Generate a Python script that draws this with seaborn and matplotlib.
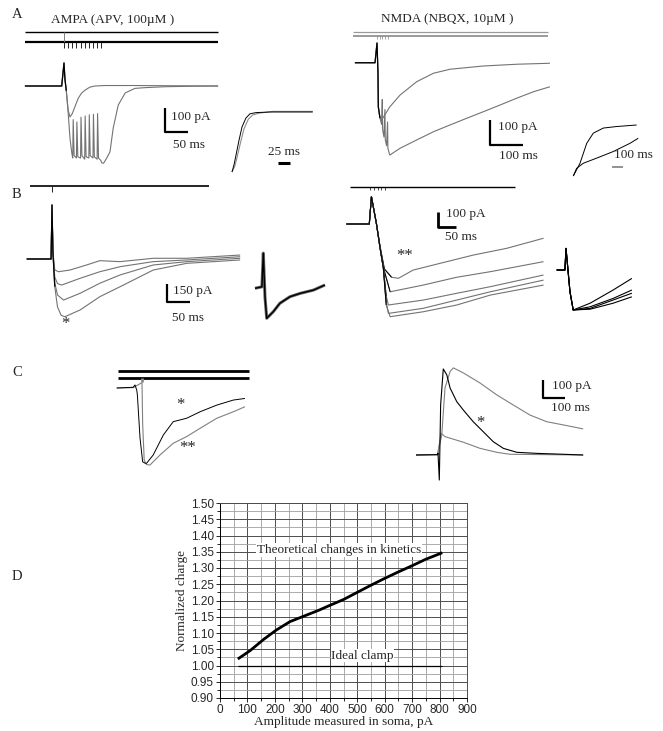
"""
Recreates the AMPA / NMDA current traces figure (panels A-D)
"""
import matplotlib
matplotlib.use("Agg")
import matplotlib.pyplot as plt
import seaborn as sns

W, H = 663, 731

# ---------------- Panel A, AMPA (time in ms, current in pA)
ampa_train_stim = [0, 9, 18, 27, 36, 45, 54, 63, 72, 80]
ampa_single_t = [-85, -5, 0, 2, 5, 9, 13, 18, 24, 31, 38, 46, 56, 67, 90, 150, 335]
ampa_single_i = [0, 0, 96, 30, -20, -100, -129, -115, -85, -51, -30, -17, -5, 0, 2, 2, 0]
ampa_train_t = [-85, -5, 0, 2, 5, 9, 13, 17, 19, 20, 22, 27, 28, 30, 36, 37, 39, 45, 46, 48,
                54, 55, 57, 63, 64, 66, 72, 73, 75, 80, 82, 86, 93, 100, 107, 118, 133,
                154, 175, 220, 280, 335]
ampa_train_i = [0, 0, 96, 30, -20, -110, -217, -280, -300, -140, -290, -300, -150, -295,
                -300, -130, -290, -305, -125, -295, -300, -120, -290, -300, -118, -295,
                -305, -115, -300, -310, -320, -322, -300, -274, -175, -79, -29, -10, -7,
                -3, -1, 0]
# inset, normalised
ampa_in_t1 = [0, 4.2, 8.3, 14.6, 20.8, 29, 37.4, 50, 79, 168]
ampa_in_i1 = [-1, -0.88, -0.72, -0.47, -0.25, -0.1, -0.03, -0.01, 0, 0]
ampa_in_t2 = [0, 6, 11, 18, 25, 34, 43, 56, 85, 168]
ampa_in_i2 = [-1, -0.9, -0.74, -0.5, -0.28, -0.12, -0.05, -0.02, 0.01, 0.01]

# ---------------- Panel A, NMDA
nmda_train_stim = [0, 8, 16, 24, 32]
nmda_fast_t = [-67, -6, 0, 3, 4, 9, 14, 39, 70, 120, 171, 221, 322, 423, 524]
nmda_fast_i = [-3, -3, 76, -44, -179, -224, -232, -179, -132, -79, -45, -29, -16, -9, -5]
nmda_slow_t = [-67, -6, 0, 3, 4, 9, 14, 16, 17, 21, 24, 25, 29, 32, 33, 37, 39, 70, 120,
               171, 221, 272, 322, 373, 423, 474, 524]
nmda_slow_i = [-3, -3, 76, -44, -179, -224, -250, -150, -270, -300, -190, -310, -335, -240,
               -345, -365, -372, -345, -312, -279, -252, -225, -199, -172, -145, -119, -99]
nmda_in_t1 = [0, 61, 122, 182, 273, 394, 576]
nmda_in_i1 = [-1, -0.75, -0.36, -0.16, -0.06, -0.03, 0]
nmda_in_t2 = [0, 30, 91, 212, 364, 515, 591]
nmda_in_i2 = [-1, -0.85, -0.75, -0.65, -0.52, -0.36, -0.26]

# ---------------- Panel B, AMPA family
b_ampa_t = [
    [-55, -2, 0, 2, 6, 14, 39, 75, 104, 148, 220, 293, 409],
    [-55, -2, 0, 2, 6, 12, 21, 61, 104, 148, 220, 293, 409],
    [-55, -2, 0, 2, 6, 12, 25, 61, 104, 148, 220, 293, 409],
    [-55, -2, 0, 2, 6, 12, 20, 28, 61, 104, 148, 220, 293, 409],
]
b_ampa_i = [
    [0, 0, 450, 60, -90, -106, -92, -50, -14, -22, 6, 6, 33],
    [0, 0, 450, 60, -150, -205, -217, -161, -106, -64, -22, -8, 19],
    [0, 0, 450, 60, -200, -300, -342, -286, -202, -133, -50, -22, 6],
    [0, 0, 450, 60, -230, -400, -470, -481, -425, -314, -231, -92, -36, -8],
]
b_ampa_in_t = [-18, -3, 0, 3.7, 7.4, 21.7, 36, 58, 80, 109, 134]
b_ampa_in_i = [0, 0.05, 1.17, -0.3, -1, -0.78, -0.5, -0.28, -0.17, -0.06, 0.11]

# ---------------- Panel B, NMDA family
b_nmda_stim = [0, 10, 21, 31, 42]
b_nmda_t = [
    [-65, -2, 4, 18, 28, 40, 60, 79, 120, 195, 287, 380, 482],
    [-65, -2, 4, 18, 28, 37, 56, 148, 241, 334, 482],
    [-65, -2, 4, 18, 28, 37, 45, 51, 148, 241, 334, 482],
    [-65, -2, 4, 18, 28, 37, 45, 51, 148, 241, 334, 482],
    [-65, -2, 4, 18, 28, 37, 45, 56, 148, 241, 334, 482],
]
b_nmda_i = [
    [0, 0, 182, 0, -150, -300, -355, -362, -307, -262, -207, -162, -95],
    [0, 0, 182, 0, -160, -290, -452, -407, -355, -318, -251],
    [0, 0, 182, 0, -160, -290, -480, -540, -507, -462, -418, -340],
    [0, 0, 182, 0, -160, -290, -520, -596, -562, -507, -452, -374],
    [0, 0, 182, 0, -160, -290, -540, -618, -585, -540, -474, -407],
]
b_nmda_in_t = [-26, -3, 0, 11, 20, 67, 131, 183]
b_nmda_in_i = [
    [0, 0, 0.54, -0.54, -1, -0.83, -0.5, -0.21],
    [0, 0, 0.54, -0.54, -1, -0.92, -0.71, -0.5],
    [0, 0, 0.54, -0.54, -1, -0.96, -0.75, -0.58],
    [0, 0, 0.54, -0.54, -1, -0.98, -0.83, -0.67],
]

# ---------------- Panel C
c_left_t1 = [-115, -40, -32, -24, -21, -9, 3, 14, 21, 51, 97, 142, 203, 264, 340, 415, 468]
c_left_i1 = [0, 4, 17, -11, -39, -278, -410, -418, -418, -372, -261, -187, -168, -132, -95, -67, -58]
c_left_t2 = [-115, -40, 0, 3, 10, 20, 36, 82, 142, 203, 264, 340, 415, 468]
c_left_i2 = [0, 2, 30, -200, -400, -425, -428, -372, -307, -270, -224, -168, -132, -104]
c_right_big_t = [-100, -2, 17, 32, 55, 70, 115, 191, 267, 342, 418, 494, 570, 660]
c_right_big_i = [0, 2, 111, 373, 464, 484, 456, 400, 334, 278, 222, 185, 167, 145]
c_right_mid_t = [-100, -2, 0, 6, 12, 24, 40, 55, 85, 115, 160, 206, 251, 297, 358, 449, 570, 660]
c_right_mid_i = [0, 2, 10, -139, 278, 478, 445, 372, 297, 250, 185, 129, 74, 37, 15, 9, 4, 0]
c_right_small_t = [-100, -2, 14, 32, 115, 191, 267, 327, 660]
c_right_small_i = [0, 2, 121, 102, 71, 37, 15, 4, 0]

# ---------------- Panel D
amplitude = [65, 110, 160, 205, 255, 315, 360, 400, 450, 500, 550, 600, 650, 700, 750, 810]
norm_charge = [1.02, 1.046, 1.081, 1.109, 1.135, 1.155, 1.17, 1.185, 1.203, 1.225,
               1.247, 1.268, 1.288, 1.307, 1.327, 1.347]
ideal_amp = [65, 810]
ideal_charge = [1.0, 1.0]

sns.set_style("white")
plt.rcParams["font.family"] = ["Liberation Serif", "DejaVu Serif"]
plt.rcParams["lines.solid_capstyle"] = "butt"

fig = plt.figure(figsize=(W / 100, H / 100), dpi=100)
GREY = "0.45"
FS = 9.5


def trace_ax(box, ms_px, pa_px, t0, i0):
    # box in pixels (x0, y0, x1, y1); scale given per pixel
    x0, y0, x1, y1 = box
    ax = fig.add_axes([x0 / W, 1 - y1 / H, (x1 - x0) / W, (y1 - y0) / H])
    ax.set_xlim((x0 - t0) * ms_px, (x1 - t0) * ms_px)
    ax.set_ylim((i0 - y1) * pa_px, (i0 - y0) * pa_px)
    ax.axis("off")
    return ax


def trace(ax, t, i, color=GREY, lw=0.8):
    sns.lineplot(x=t, y=i, ax=ax, color=color, lw=lw, estimator=None, sort=False)


def scalebar(ax, x, y_top, y_bot, x_end, color="k", lw=1.6):
    ax.plot([x, x, x_end], [y_top, y_bot, y_bot], color=color, lw=lw)


# ----- A left
ax = trace_ax((20, 25, 232, 180), 50 / 23, 100 / 24, 64, 86)
ax.hlines([225, 183], -85, 335, colors="k", lw=[1.0, 1.6])
ax.vlines(0, 183, 225, colors="0.5", lw=0.7)
ax.vlines(ampa_train_stim, 158, 183, colors="k", lw=0.6)
trace(ax, ampa_single_t, ampa_single_i)
trace(ax, ampa_train_t, ampa_train_i)
trace(ax, ampa_train_t[:5], ampa_train_i[:5], color="k", lw=0.9)
scalebar(ax, 220, -92, -192, 270)
ax.text(233, -129, "100 pA", fontsize=FS, va="center")
ax.text(272, -246, "50 ms", fontsize=FS, ha="center", va="center")

ax = trace_ax((225, 100, 330, 180), 2.08, 1 / 60, 232, 112)
trace(ax, ampa_in_t2, ampa_in_i2, color="0.55")
trace(ax, ampa_in_t1, ampa_in_i1, color="k", lw=0.7)
ax.plot([96, 121], [-0.85, -0.85], color="k", lw=2.2)
ax.text(108, -0.66, "25 ms", fontsize=FS, ha="center", va="center")

# ----- A right
ax = trace_ax((345, 25, 560, 180), 100 / 33, 4, 377, 62)
ax.hlines([120, 104], -73, 518, colors="0.6", lw=[0.9, 1.4])
ax.vlines(nmda_train_stim, 92, 104, colors="0.5", lw=0.5)
trace(ax, nmda_slow_t, nmda_slow_i)
trace(ax, nmda_fast_t, nmda_fast_i)
trace(ax, nmda_fast_t[:6], nmda_fast_i[:6], color="k", lw=0.9)
scalebar(ax, 342, -232, -332, 442)
ax.text(367, -260, "100 pA", fontsize=FS, va="center")
ax.text(430, -376, "100 ms", fontsize=FS, ha="center", va="center")

ax = trace_ax((565, 115, 663, 180), 9.1, 1 / 51, 573.3, 125)
trace(ax, nmda_in_t1, nmda_in_i1, color="k", lw=0.7)
trace(ax, nmda_in_t2, nmda_in_i2, color="k", lw=0.7)
ax.plot([352, 452], [-0.82, -0.82], color="0.5", lw=1.2)
ax.text(371, -0.59, "100 ms", fontsize=FS, va="center")

# ----- B left
ax = trace_ax((20, 180, 250, 330), 50 / 23, 150 / 18, 52, 259)
ax.hlines(608, -48, 341, colors="k", lw=1.2)
ax.vlines(0, 558, 608, colors="k", lw=0.6)
for t, i in zip(b_ampa_t, b_ampa_i):
    trace(ax, t, i)
trace(ax, b_ampa_t[3][:5], b_ampa_i[3][:5], color="k", lw=0.9)
scalebar(ax, 250, -208, -358, 300)
ax.text(263, -267, "150 pA", fontsize=FS, va="center")
ax.text(296, -491, "50 ms", fontsize=FS, ha="center", va="center")
ax.text(28, -545, "*", fontsize=12, ha="center", va="center")

ax = trace_ax((250, 240, 332, 330), 50 / 23, 1 / 30, 263.3, 288.3)
trace(ax, b_ampa_in_t, b_ampa_in_i, color="0.4", lw=2.2)
trace(ax, b_ampa_in_t, b_ampa_in_i, color="k", lw=1.0)

# ----- B right
ax = trace_ax((340, 180, 552, 330), 50 / 18, 100 / 15, 370, 224)
ax.hlines(247, -56, 403, colors="k", lw=1.0)
ax.vlines(b_nmda_stim, 227, 247, colors="k", lw=0.5)
for t, i in zip(b_nmda_t, b_nmda_i):
    trace(ax, t, i)
    trace(ax, t[:7], i[:7], color="k", lw=0.7)
scalebar(ax, 189, 80, -20, 239, lw=2.0)
ax.text(211, 67, "100 pA", fontsize=FS, va="center")
ax.text(253, -87, "50 ms", fontsize=FS, ha="center", va="center")
ax.text(97, -215, "**", fontsize=12, ha="center", va="center")

ax = trace_ax((552, 240, 640, 320), 50 / 18, 1 / 40, 566, 270)
for i in b_nmda_in_i:
    trace(ax, b_nmda_in_t, i, color="k", lw=0.8)

# ----- C left
ax = trace_ax((100, 360, 262, 478), 100 / 22, 100 / 18, 142, 388)
ax.hlines([94.5, 55.6], -109, 486, colors="k", lw=2.0)
ax.vlines(0, 33, 55.6, colors="0.55", lw=2.0)
trace(ax, c_left_t2, c_left_i2, color="0.5")
trace(ax, c_left_t1, c_left_i1, color="k", lw=0.7)
ax.text(173, -95, "*", fontsize=12, ha="center", va="center")
ax.text(209, -335, "**", fontsize=12, ha="center", va="center")

# ----- C right
ax = trace_ax((405, 360, 600, 485), 100 / 22, 100 / 18, 438, 455)
trace(ax, c_right_big_t, c_right_big_i, color="0.5")
trace(ax, c_right_small_t, c_right_small_i, color="0.5")
trace(ax, c_right_mid_t, c_right_mid_i, color="k", lw=0.8)
scalebar(ax, 477, 417, 317, 577)
ax.text(518, 384, "100 pA", fontsize=FS, va="center")
ax.text(600, 261, "100 ms", fontsize=FS, ha="center", va="center")
ax.text(191, 176, "*", fontsize=12, ha="center", va="center")

# ----- titles and panel letters
fig.text(113 / W, 1 - 20 / H, "AMPA (APV, 100µM )", fontsize=FS, ha="center", va="center")
fig.text(447 / W, 1 - 19 / H, "NMDA (NBQX, 10µM )", fontsize=FS, ha="center", va="center")
for lab, y in [("A", 14), ("B", 195), ("C", 372), ("D", 577)]:
    fig.text(12 / W, 1 - y / H, lab, fontsize=10.5, va="center")

# ----- D
ax = fig.add_axes([220 / W, 1 - 698 / H, 247 / W, 195 / H])
sns.lineplot(x=amplitude, y=norm_charge, ax=ax, color="k", lw=2.0, estimator=None, sort=False)
sns.lineplot(x=ideal_amp, y=ideal_charge, ax=ax, color="k", lw=0.9, estimator=None)
ax.set_xlim(0, 900)
ax.set_ylim(0.90, 1.50)
ax.set_xticks(range(0, 901, 100))
ax.set_xticks(range(50, 900, 100), minor=True)
yt = [0.90 + 0.05 * k for k in range(13)]
ax.set_yticks(yt)
ax.set_yticks([0.925 + 0.05 * k for k in range(12)], minor=True)
ax.set_yticklabels([f"{v:.2f}" for v in yt])
ax.grid(True, which="major", color="0.3", lw=0.7)
ax.grid(True, which="minor", color="0.62", lw=0.6)
ax.set_axisbelow(True)
ax.tick_params(which="both", direction="out", left=True, bottom=True, length=3,
               width=0.7, labelsize=8.5, pad=1.5)
ax.tick_params(which="minor", length=2)
for lbl in ax.get_xticklabels() + ax.get_yticklabels():
    lbl.set_family(["Liberation Sans", "DejaVu Sans"])
for s in ax.spines.values():
    s.set_color("0.3")
    s.set_linewidth(0.7)
ax.spines["left"].set_color("k")
ax.spines["bottom"].set_color("k")
ax.set_xlabel("Amplitude measured in soma, pA", fontsize=FS, labelpad=0)
ax.set_ylabel("Normalized charge", fontsize=FS, labelpad=2)
box = dict(facecolor="white", edgecolor="none", pad=0.5)
ax.text(434, 1.355, "Theoretical changes in kinetics", fontsize=FS, ha="center", va="center", bbox=box)
ax.text(519, 1.03, "Ideal clamp", fontsize=FS, ha="center", va="center", bbox=box)

fig.savefig("out.png", dpi=100)
